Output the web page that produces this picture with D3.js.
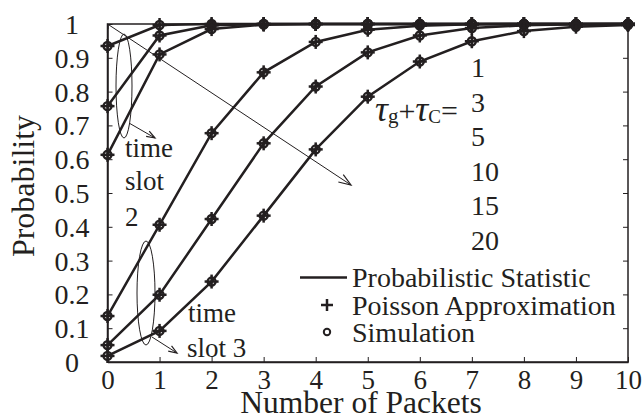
<!DOCTYPE html>
<html><head><meta charset="utf-8">
<script src="https://cdn.jsdelivr.net/npm/d3@7"></script>
<style>body{margin:0;background:#fff}svg{display:block}svg text{font-family:"Liberation Serif","DejaVu Serif",serif !important;fill:#231f20}</style>
</head><body>
<script>
const packets = [0,1,2,3,4,5,6,7,8,9,10];
const yTicks = [0,0.1,0.2,0.3,0.4,0.5,0.6,0.7,0.8,0.9,1];
const yTickLabels = ["0","0.1","0.2","0.3","0.4","0.5","0.6","0.7","0.8","0.9","1"];
const tauLabels = ["1","3","5","10","15","20"];
// time slot 2 curves
const s1  = [0.935,0.997,1,1,1,1,1,1,1,1,1];
const s3  = [0.757,0.966,0.996,1,1,1,1,1,1,1,1];
const s5  = [0.613,0.91,0.985,0.998,1,1,1,1,1,1,1];
// time slot 3 curves
const s10 = [0.136,0.406,0.677,0.857,0.947,0.983,0.995,0.999,1,1,1];
const s15 = [0.05,0.199,0.423,0.647,0.815,0.916,0.966,0.988,0.996,0.999,1];
const s20 = [0.018,0.092,0.238,0.433,0.629,0.785,0.889,0.949,0.979,0.992,0.997];
const seriesList = [s1,s3,s5,s10,s15,s20];
const legendLabels = ["Probabilistic Statistic","Poisson Approximation","Simulation"];

const W=644,H=417;
const svg=d3.select("body").append("svg").attr("width",W).attr("height",H)
  .style("font-family","'Liberation Serif','DejaVu Serif',serif");
const x=d3.scaleLinear().domain([0,10]).range([107.5,628]);
const y=d3.scaleLinear().domain([0,1]).range([362,24]);
const ink="#231f20";
const FF="Liberation Serif";

// box
svg.append("rect").attr("x",x(0)).attr("y",y(1)).attr("width",x(10)-x(0)).attr("height",y(0)-y(1))
  .attr("fill","none").attr("stroke",ink).attr("stroke-width",1.5);

// axes
const xb=svg.append("g").attr("transform",`translate(0,${y(0)})`)
  .call(d3.axisBottom(x).tickValues(packets).tickSizeInner(-5).tickSizeOuter(0).tickPadding(8));
xb.attr("font-family",null);
xb.select(".domain").attr("stroke",ink).attr("stroke-width",1.5);
xb.selectAll(".tick line").attr("stroke",ink);
xb.selectAll("text").attr("font-size",27).attr("fill",ink).attr("font-family",FF);
const xt=svg.append("g").attr("transform",`translate(0,${y(1)})`)
  .call(d3.axisTop(x).tickValues(packets).tickSizeInner(-5).tickSizeOuter(0).tickFormat(""));
xt.select(".domain").remove(); xt.selectAll(".tick line").attr("stroke",ink);
const yl=svg.append("g").attr("transform",`translate(${x(0)},0)`)
  .call(d3.axisLeft(y).tickValues(yTicks).tickSizeInner(-5).tickSizeOuter(0).tickFormat((d,i)=>yTickLabels[i]).tickPadding(0));
yl.attr("font-family",null);
yl.select(".domain").attr("stroke",ink).attr("stroke-width",1.5);
yl.selectAll(".tick line").attr("stroke",ink);
yl.selectAll("text").attr("font-size",28).attr("fill",ink).attr("font-family",FF)
  .attr("text-anchor","middle").attr("x",72-x(0)).attr("dy","0.34em");
const yr=svg.append("g").attr("transform",`translate(${x(10)},0)`)
  .call(d3.axisRight(y).tickValues(yTicks).tickSizeInner(-5).tickSizeOuter(0).tickFormat(""));
yr.select(".domain").remove(); yr.selectAll(".tick line").attr("stroke",ink);

// titles
svg.append("text").attr("x",361).attr("y",413).attr("text-anchor","middle").attr("font-size",31.5).attr("font-family",FF).text("Number of Packets");
svg.append("text").attr("transform","translate(34,186) rotate(-90)").attr("text-anchor","middle").attr("font-size",32).attr("font-family",FF).text("Probability");

// curves
const line=d3.line().x((d,i)=>x(packets[i])).y(d=>y(d));
seriesList.forEach(s=>{
  svg.append("path").attr("d",line(s)).attr("fill","none").attr("stroke",ink).attr("stroke-width",2.5);
});
// markers
function plus(g,cx,cy,a){
  g.append("line").attr("x1",cx-a).attr("x2",cx+a).attr("y1",cy).attr("y2",cy).attr("stroke",ink).attr("stroke-width",2.5);
  g.append("line").attr("x1",cx).attr("x2",cx).attr("y1",cy-a).attr("y2",cy+a).attr("stroke",ink).attr("stroke-width",2.5);
}
const mk=svg.append("g");
seriesList.forEach(s=>{
  s.forEach((v,i)=>{
    plus(mk,x(packets[i]),y(v),7);
    mk.append("circle").attr("cx",x(packets[i])).attr("cy",y(v)).attr("r",4).attr("fill","none").attr("stroke",ink).attr("stroke-width",2.4);
  });
});

// arrows
function arrow(x1,y1,x2,y2,hl){
  svg.append("line").attr("x1",x1).attr("y1",y1).attr("x2",x2).attr("y2",y2).attr("stroke",ink).attr("stroke-width",1);
  const ang=Math.atan2(y2-y1,x2-x1), sp=0.35;
  svg.append("path").attr("d",`M${x2-hl*Math.cos(ang-sp)},${y2-hl*Math.sin(ang-sp)}L${x2},${y2}L${x2-hl*Math.cos(ang+sp)},${y2-hl*Math.sin(ang+sp)}`)
    .attr("fill","none").attr("stroke",ink).attr("stroke-width",1.2);
}
arrow(x(0),y(1),351,185,13);
arrow(129,123,155,138,9);
arrow(152,337,177,353,9);
// ellipses
svg.append("ellipse").attr("cx",124).attr("cy",86).attr("rx",8).attr("ry",52).attr("fill","none").attr("stroke",ink).attr("stroke-width",1);
svg.append("ellipse").attr("cx",146).attr("cy",293).attr("rx",9).attr("ry",52).attr("fill","none").attr("stroke",ink).attr("stroke-width",1);
// annotations
const ann=[["time",125,157],["slot",125,190],["2",125,226],["time",188,322],["slot 3",187,357]];
ann.forEach(a=>svg.append("text").attr("x",a[1]).attr("y",a[2]).attr("font-size",27).attr("font-family",FF).text(a[0]));

// tau labels
tauLabels.forEach((t,i)=>svg.append("text").attr("x",471).attr("y",77+i*34.6).attr("font-size",28).attr("font-family",FF).text(t));
const te=svg.append("text").attr("x",375).attr("y",121).attr("font-family",FF);
te.append("tspan").attr("font-size",36).attr("font-style","italic").text("τ");
te.append("tspan").attr("font-size",21).attr("dy",2).text("g");
te.append("tspan").attr("font-size",30).attr("dy",-2).text("+");
te.append("tspan").attr("font-size",36).attr("font-style","italic").text("τ");
te.append("tspan").attr("font-size",19).attr("dy",2).text("C");
te.append("tspan").attr("font-size",30).attr("dy",-2).text("=");

// legend
svg.append("line").attr("x1",300).attr("x2",347).attr("y1",277.5).attr("y2",277.5).attr("stroke",ink).attr("stroke-width",2.5);
plus(svg,327,305,6);
svg.append("circle").attr("cx",327).attr("cy",332).attr("r",3.2).attr("fill","none").attr("stroke",ink).attr("stroke-width",2);
legendLabels.forEach((t,i)=>svg.append("text").attr("x",352).attr("y",287+i*27.5).attr("font-size",28).attr("font-family",FF).text(t));
</script>
</body></html>
